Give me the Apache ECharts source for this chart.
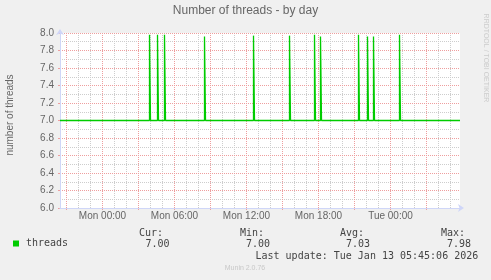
<!DOCTYPE html>
<html><head><meta charset="utf-8">
<script src="https://cdn.jsdelivr.net/npm/echarts@6/dist/echarts.min.js"></script>
<style>html,body{margin:0;padding:0;background:#f0f0f0;overflow:hidden}
.layer{width:491px;height:280px;position:absolute;left:0;top:0}</style>
</head><body><div class="layer" id="gridLayer"></div><div class="layer" id="c"></div>
<script>
const chartTitle = 'Number of threads - by day';
const yAxisName = 'number of threads';
const seriesName = 'threads';
// time in minutes relative to Mon 00:00
const threadsTimes = [-212.5, 235, 240, 275, 280, 310, 315, 510, 515, 755, 760, 935, 940, 1060, 1065, 1090, 1095, 1280, 1285, 1325, 1330, 1355, 1360, 1485, 1490, 1787.5];
const threadsValues = [7.00, 7.98, 7.00, 7.98, 7.00, 7.98, 7.00, 7.96, 7.00, 7.97, 7.00, 7.97, 7.00, 7.98, 7.00, 7.96, 7.00, 7.98, 7.00, 7.96, 7.00, 7.96, 7.00, 7.98, 7.00, 7.00];
const xLabelMinutes = [0, 360, 720, 1080, 1440];
const xLabels = ['Mon 00:00', 'Mon 06:00', 'Mon 12:00', 'Mon 18:00', 'Tue 00:00'];
const xRange = [-212.5, 1787.5];       // full plot span (minutes)
const minorGridRange = [-180, 1740];   // first / last hourly grid line
const majorGridRange = [-180, 1620];   // first / last 3-hourly grid line
const minorStep = 60, majorStep = 180;
const yRange = [6, 8];
const yStep = 0.2, yMinorStep = 0.1;
const statHeaders = ['Cur:', 'Min:', 'Avg:', 'Max:'];
const statValues = ['7.00', '7.00', '7.03', '7.98'];
const lastUpdate = 'Last update: Tue Jan 13 05:45:06 2026';
const versionText = 'Munin 2.0.76';
const watermark = 'RRDTOOL / TOBI OETIKER';

const seriesData = threadsTimes.map((t, i) => [t, threadsValues[i]]);
const FONT = '#666666';
const AXIS = '#CFD6F8';
const MGRID = '#ee9e9e';
const GRID = '#cdcdcd';
const sans = '"Liberation Sans", Arial, sans-serif';
const mono = '"DejaVu Sans Mono", monospace';

const plotLeft = 60, plotTop = 33, plotW = 400, plotH = 175;
const pxPerMin = plotW / (xRange[1] - xRange[0]);
const gridFor = r => ({left: plotLeft + (r[0] - xRange[0]) * pxPerMin, top: plotTop,
  width: (r[1] - r[0]) * pxPerMin, height: plotH, show: false});
const mainGrid = {left: plotLeft, top: plotTop, width: plotW, height: plotH};

// ---- bottom layer: canvas + grid lines ----
const gridChart = echarts.init(document.getElementById('gridLayer'));
gridChart.setOption({
  backgroundColor: '#f0f0f0', animation: false,
  grid: [Object.assign({show: true, backgroundColor: '#ffffff', borderWidth: 0, z: 0}, mainGrid),
    gridFor(minorGridRange), gridFor(majorGridRange)],
  xAxis: [
    {type: 'value', gridIndex: 0, min: xRange[0], max: xRange[1], axisLine: {show: false, onZero: false}, axisTick: {show: false}, axisLabel: {show: false}, splitLine: {show: false}},
    {type: 'value', gridIndex: 1, min: minorGridRange[0], max: minorGridRange[1], interval: minorStep, z: 1,
      axisLine: {show: false, onZero: false}, axisLabel: {show: false}, axisTick: {show: false},
      splitLine: {show: true, lineStyle: {color: GRID, type: [1, 1], width: 1}}},
    {type: 'value', gridIndex: 2, min: majorGridRange[0], max: majorGridRange[1], interval: majorStep, z: 2,
      axisLine: {show: false, onZero: false}, axisLabel: {show: false},
      axisTick: {show: true, length: 2, lineStyle: {color: MGRID}},
      splitLine: {show: true, lineStyle: {color: MGRID, type: [1, 1], width: 1}}}
  ],
  yAxis: [
    {type: 'value', gridIndex: 0, min: yRange[0], max: yRange[1], interval: yStep, z: 2,
      axisLine: {show: false, onZero: false}, axisLabel: {show: false},
      axisTick: {show: true, length: 2, lineStyle: {color: MGRID}},
      splitLine: {show: true, lineStyle: {color: MGRID, type: [1, 1], width: 1}}},
    {type: 'value', gridIndex: 1, min: yRange[0], max: yRange[1], show: false},
    {type: 'value', gridIndex: 2, min: yRange[0], max: yRange[1], show: false},
    {type: 'value', gridIndex: 0, min: yRange[0], max: yRange[1], interval: yMinorStep, z: 1, position: 'right',
      axisLine: {show: false, onZero: false}, axisLabel: {show: false}, axisTick: {show: false},
      splitLine: {show: true, lineStyle: {color: GRID, type: [1, 1], width: 1}}}
  ]
});

// ---- top layer: axes, labels, data, legend, texts ----
const headerX = [139, 240, 340, 441];
const valueX = [145.5, 246, 346, 447];
const graphics = [];
statHeaders.forEach((h, i) => graphics.push({type: 'text', x: headerX[i], y: 233, style: {text: h, fill: '#444', font: '10px ' + mono, verticalAlign: 'middle'}}));
statValues.forEach((v, i) => graphics.push({type: 'text', x: valueX[i], y: 244.5, style: {text: v, fill: '#444', font: '10px ' + mono, verticalAlign: 'middle'}}));
graphics.push({type: 'text', x: 255.5, y: 256, style: {text: lastUpdate, fill: '#444', font: '10px ' + mono, verticalAlign: 'middle'}});
graphics.push({type: 'text', x: 245, y: 268, style: {text: versionText, fill: '#c8c8c8', font: '7px ' + sans, align: 'center', verticalAlign: 'middle'}});
graphics.push({type: 'text', x: 485.5, y: 58, rotation: -Math.PI / 2, style: {text: watermark, fill: '#cccccc', font: '7px ' + sans, align: 'center', verticalAlign: 'middle'}});
graphics.push({type: 'text', x: 10, y: 115, rotation: Math.PI / 2, style: {text: yAxisName, fill: FONT, font: '10px ' + sans, align: 'center', verticalAlign: 'middle'}});

const chart = echarts.init(document.getElementById('c'));
chart.setOption({
  backgroundColor: 'transparent',
  animation: false,
  title: {text: chartTitle, left: 'center', top: 4, padding: 0,
    textStyle: {fontSize: 12, fontWeight: 'normal', color: FONT, fontFamily: sans, lineHeight: 14}},
  grid: [Object.assign({show: false}, mainGrid), gridFor(majorGridRange)],
  legend: {data: [seriesName], left: 13, top: 238.5, padding: 0, icon: 'rect', itemWidth: 6, itemHeight: 6,
    textStyle: {fontFamily: mono, fontSize: 10, color: '#444', padding: [0, 0, 0, 2]}},
  xAxis: [
    {type: 'value', gridIndex: 0, min: xRange[0], max: xRange[1],
      axisLine: {show: true, onZero: false, lineStyle: {color: AXIS, width: 1}, symbol: ['none', 'arrow'], symbolSize: [6, 6], symbolOffset: [0, 4]},
      axisTick: {show: false}, axisLabel: {show: false}, splitLine: {show: false}},
    {type: 'value', gridIndex: 1, min: majorGridRange[0], max: majorGridRange[1], interval: majorStep,
      axisLine: {show: false, onZero: false}, axisTick: {show: false}, splitLine: {show: false},
      axisLabel: {formatter: v => { const k = xLabelMinutes.indexOf(v); return k < 0 ? '' : xLabels[k]; },
        color: FONT, fontFamily: sans, fontSize: 10, margin: 3}}
  ],
  yAxis: [
    {type: 'value', gridIndex: 0, min: yRange[0], max: yRange[1], interval: yStep,
      axisLine: {show: true, onZero: false, lineStyle: {color: AXIS, width: 1}, symbol: ['none', 'arrow'], symbolSize: [6, 6], symbolOffset: [0, 4]},
      axisTick: {show: false}, splitLine: {show: false},
      axisLabel: {color: FONT, fontFamily: sans, fontSize: 10, margin: 6, formatter: v => v.toFixed(1)}},
    {type: 'value', gridIndex: 1, min: yRange[0], max: yRange[1], show: false}
  ],
  graphic: graphics,
  series: [{name: seriesName, type: 'line', step: 'end', data: seriesData, xAxisIndex: 0, yAxisIndex: 0,
    showSymbol: false, symbol: 'none', color: '#00cc00', z: 5,
    lineStyle: {color: '#00cc00', width: 1.3}, itemStyle: {color: '#00cc00'}}]
});
</script></body></html>
